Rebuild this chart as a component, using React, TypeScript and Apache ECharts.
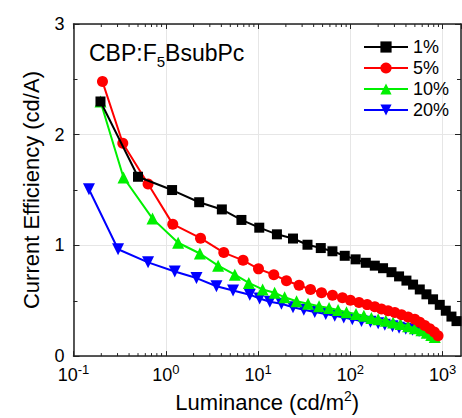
import React, { useEffect, useRef } from "react";
import * as echarts from "echarts";

const FONT = "'Liberation Sans', Arial, sans-serif";

const seriesNames = ["1%", "5%", "10%", "20%"];
const seriesColors = ["#000000", "#ff0000", "#00f000", "#0000ff"];
const seriesSymbols = ["rect", "circle", "triangle", "path://M0,0 L10,0 L5,9 Z"];

const lum1 = [0.196, 0.5, 1.17, 2.3, 4.05, 6.6, 10.3, 16.0, 23.9, 34.3, 47.8, 63.9, 86.9, 114, 147, 184, 226, 279, 337, 405, 478, 565, 667, 787, 930, 1081, 1245, 1412];
const ce1 = [2.3, 1.62, 1.5, 1.39, 1.325, 1.23, 1.16, 1.1, 1.062, 1.006, 0.976, 0.947, 0.906, 0.874, 0.843, 0.817, 0.794, 0.758, 0.72, 0.682, 0.646, 0.602, 0.558, 0.513, 0.463, 0.41, 0.357, 0.316];

const lum5 = [0.206, 0.342, 0.643, 1.19, 2.38, 4.25, 6.88, 10.1, 14.8, 20.3, 27.8, 37.0, 48.7, 64, 82, 100, 124, 152, 184, 217, 256, 303, 358, 422, 499, 565, 640, 725, 811, 891];
const ce5 = [2.48, 1.923, 1.555, 1.192, 1.065, 0.935, 0.865, 0.788, 0.735, 0.681, 0.64, 0.602, 0.573, 0.549, 0.528, 0.504, 0.484, 0.465, 0.445, 0.425, 0.41, 0.394, 0.374, 0.354, 0.332, 0.305, 0.277, 0.248, 0.217, 0.183];

const lum10 = [0.196, 0.348, 0.718, 1.36, 2.34, 3.69, 5.6, 7.93, 11.2, 15.1, 19.4, 26.1, 34.8, 45.8, 58.8, 73.6, 90.8, 115, 140, 169, 200, 242, 290, 349, 422, 499, 589, 672, 752, 821];
const ce10 = [2.3, 1.613, 1.242, 1.024, 0.927, 0.817, 0.735, 0.661, 0.602, 0.573, 0.531, 0.496, 0.473, 0.451, 0.434, 0.416, 0.396, 0.381, 0.365, 0.345, 0.332, 0.319, 0.304, 0.29, 0.27, 0.252, 0.233, 0.212, 0.19, 0.173];

const lum20 = [0.147, 0.304, 0.643, 1.25, 2.15, 3.54, 5.36, 8.13, 10.4, 13.4, 17.9, 23.9, 31.3, 41.1, 54.1, 67.7, 84.8, 105, 132, 165, 200, 236, 286, 337, 398, 471, 555, 640, 725, 787];
const ce20 = [1.507, 0.965, 0.847, 0.764, 0.705, 0.631, 0.593, 0.555, 0.52, 0.491, 0.473, 0.442, 0.419, 0.398, 0.381, 0.365, 0.348, 0.332, 0.316, 0.31, 0.296, 0.283, 0.27, 0.257, 0.248, 0.239, 0.226, 0.212, 0.195, 0.177];

const xMin = 0.1;
const xMax = 1580;
const yMin = 0;
const yMax = 3;
const yInterval = 1;

const minorXTicks = [
  0.2, 0.3, 0.4, 0.5, 0.6, 0.7, 0.8, 0.9,
  2, 3, 4, 5, 6, 7, 8, 9,
  20, 30, 40, 50, 60, 70, 80, 90,
  200, 300, 400, 500, 600, 700, 800, 900,
];

const xTitle = "Luminance (cd/m{s|2})";
const yTitle = "Current Efficiency (cd/A)";
const annotation = "{a|CBP:F}{s|5}{a|BsubPc}";

const allLum = [lum1, lum5, lum10, lum20];
const allCe = [ce1, ce5, ce10, ce20];
const symbolSizes = [10, 11, 12, 12];

export default function App() {
  const ref = useRef<HTMLDivElement>(null);
  useEffect(() => {
    if (!ref.current) return;
    const chart = echarts.init(ref.current, null, { renderer: "svg" });
    const axisColor = "#222";
    const lineSeries = seriesNames.map((name, i) => ({
      name,
      type: "line",
      xAxisIndex: 0,
      yAxisIndex: 0,
      data: allLum[i].map((v, j) => [v, allCe[i][j]]),
      symbol: seriesSymbols[i],
      symbolSize: symbolSizes[i],
      showAllSymbol: true,
      color: seriesColors[i],
      lineStyle: { width: 2, color: seriesColors[i] },
      itemStyle: { color: seriesColors[i] },
      z: 3 + (3 - i),
    }));
    const expFormatter = (v: number) => {
      const e = Math.log10(v);
      const r = Math.round(e);
      if (Math.abs(e - r) > 0.01) return "";
      return "{b|10}{s|" + r + "}";
    };
    chart.setOption({
      animation: false,
      textStyle: { fontFamily: FONT },
      grid: { left: 73.5, right: 1, top: 24, bottom: 55, containLabel: false },
      title: {
        text: annotation,
        left: 84,
        top: 31,
        textStyle: {
          fontWeight: "normal",
          rich: {
            a: { fontSize: 23, fontFamily: FONT, color: "#000", fontWeight: "normal" },
            s: { fontSize: 15, fontFamily: FONT, color: "#000", fontWeight: "normal", padding: [18, 0, 0, 0] },
          },
        },
      },
      legend: {
        data: seriesNames,
        orient: "vertical",
        left: 358,
        top: 33,
        itemWidth: 44,
        itemHeight: 14,
        itemGap: 3,
        textStyle: { fontSize: 18, color: "#000", fontFamily: FONT },
      },
      xAxis: [
        {
          type: "log",
          logBase: 10,
          min: xMin,
          max: xMax,
          position: "bottom",
          name: xTitle,
          nameLocation: "middle",
          nameGap: 22,
          nameTextStyle: {
            fontSize: 22,
            color: "#000",
            fontFamily: FONT,
            rich: { s: { fontSize: 14, fontFamily: FONT, color: "#000", padding: [0, 0, 12, 0] } },
          },
          axisLine: { show: true, onZero: false, lineStyle: { color: axisColor, width: 1.5 } },
          axisTick: { show: true, inside: true, length: 5, lineStyle: { color: axisColor } },
          minorTick: { show: false },
          splitLine: { show: true, lineStyle: { color: "#e6e6e6", width: 1 } },
          axisLabel: {
            margin: 7,
            formatter: expFormatter,
            showMaxLabel: false,
            rich: {
              b: { fontSize: 18, fontFamily: FONT, color: "#000" },
              s: { fontSize: 13, fontFamily: FONT, color: "#000", padding: [0, 0, 11, 0] },
            },
          },
        },
        {
          type: "log",
          logBase: 10,
          min: xMin,
          max: xMax,
          position: "top",
          axisLine: { show: true, onZero: false, lineStyle: { color: axisColor, width: 1.5 } },
          axisTick: { show: true, inside: true, length: 5, lineStyle: { color: axisColor } },
          axisLabel: { show: false },
          splitLine: { show: false },
        },
      ],
      yAxis: [
        {
          type: "value",
          min: yMin,
          max: yMax,
          interval: yInterval,
          position: "left",
          name: yTitle,
          nameLocation: "middle",
          nameGap: 31,
          nameTextStyle: { fontSize: 22, color: "#000", fontFamily: FONT },
          axisLine: { show: true, onZero: false, lineStyle: { color: axisColor, width: 1.5 } },
          axisTick: { show: true, inside: true, length: 6, lineStyle: { color: axisColor } },
          minorTick: { show: true, splitNumber: 2, length: 4, lineStyle: { color: axisColor } },
          splitLine: { show: true, lineStyle: { color: "#e6e6e6", width: 1 } },
          axisLabel: { fontSize: 18, color: "#000", margin: 9, fontFamily: FONT },
        },
        {
          type: "value",
          min: yMin,
          max: yMax,
          interval: yInterval,
          position: "right",
          axisLine: { show: true, onZero: false, lineStyle: { color: axisColor, width: 1.5 } },
          axisTick: { show: true, inside: true, length: 6, lineStyle: { color: axisColor } },
          minorTick: { show: true, splitNumber: 2, length: 4, lineStyle: { color: axisColor } },
          axisLabel: { show: false },
          splitLine: { show: false },
        },
      ],
      series: [
        ...lineSeries,
        {
          type: "custom",
          name: "minorTicks",
          xAxisIndex: 0,
          yAxisIndex: 0,
          silent: true,
          z: 10,
          data: minorXTicks.map((v) => [v, 0]),
          encode: { x: 0, y: 1 },
          renderItem: (params: any, api: any) => {
            const x = api.coord([api.value(0), 0])[0];
            const cs = params.coordSys;
            const b = cs.y + cs.height;
            return {
              type: "group",
              children: [
                { type: "line", shape: { x1: x, y1: b, x2: x, y2: b - 3 }, style: { stroke: axisColor, lineWidth: 1 } },
                { type: "line", shape: { x1: x, y1: cs.y, x2: x, y2: cs.y + 3 }, style: { stroke: axisColor, lineWidth: 1 } },
              ],
            };
          },
        },
      ],
    });
    return () => chart.dispose();
  }, []);
  return <div ref={ref} style={{ position: "absolute", left: 0, top: 0, width: 462, height: 418 }} />;
}
